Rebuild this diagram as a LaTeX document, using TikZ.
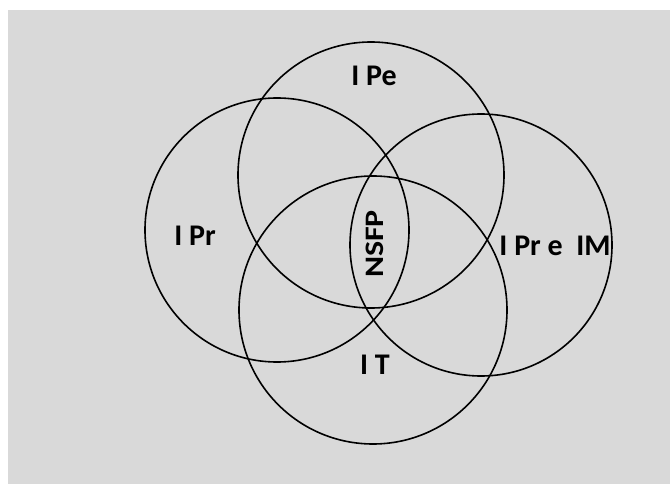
\documentclass[tikz,border=0pt]{standalone}
\usepackage{fontspec}
\setmainfont{Carlito}
\newfontfamily\stretchfont{Carlito}[FakeStretch=1.2]
\usetikzlibrary{positioning}
\definecolor{bggray}{RGB}{217,217,217}
\tikzset{
	venn/.style={draw, circle, line width=1.2pt, minimum size=#1, inner sep=0pt},
	lbl/.style={font=\bfseries\fontsize{22.5}{26}\selectfont, inner sep=0pt},
}

\begin{document}
\begin{tikzpicture}[x=0.75pt, y=-0.75pt]
	\useasboundingbox (0,0) rectangle (670,484);
	\fill[bggray] (8,10) rectangle (670,484);
	% the four sets
	\node[venn=199.5pt] (pe) at (371,175) {};
	\node[venn=198pt] (pr) at (277,230) {};
	\node[venn=196.5pt] (prim) at (481,245) {};
	\node[venn=201pt] (it) at (373,310) {};
	% labels
	\node[lbl] (pelbl) at (374,76) {I Pe};
	\node[lbl] (prlbl) at (195,236) {I Pr};
	\node[lbl] (primlbl) at (555,246) {I Pr e~~IM};
	\node[lbl] (itlbl) at (375,365) {I T};
	\node[lbl, font=\stretchfont\bfseries\fontsize{20}{24}\selectfont, rotate=90] (nsfp) at (375,244) {NSFP};
\end{tikzpicture}
\end{document}
